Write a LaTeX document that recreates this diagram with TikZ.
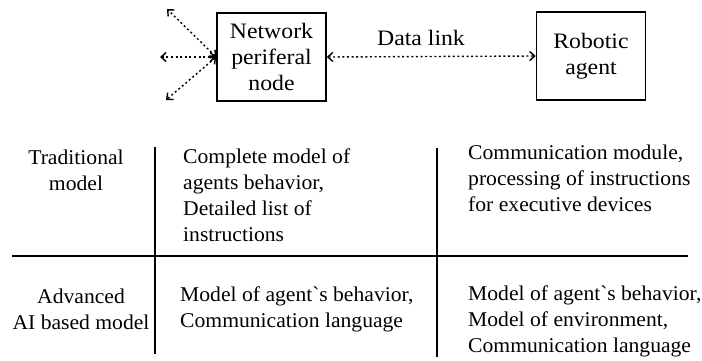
\documentclass[tikz,border=0pt]{standalone}
\usepackage{fontspec}
\setmainfont{LiberationSerif}[Extension=.ttf,UprightFont=*-Regular,BoldFont=*-Bold,ItalicFont=*-Italic]
\newfontfamily\boxfont{LiberationSerif}[Extension=.ttf,UprightFont=*-Regular,FakeStretch=1.08]
\newfontfamily\tabfont{LiberationSerif}[Extension=.ttf,UprightFont=*-Regular,FakeStretch=1.03]
\usetikzlibrary{arrows.meta}
\tikzset{
  box/.style={draw, line width=1.6pt, minimum width=109pt, minimum height=88pt, align=center, inner sep=0pt, font=\boxfont\fontsize{22}{26}\selectfont},
  link/.style={line width=1.4pt, dash pattern=on 2pt off 2.6pt, {Straight Barb[length=5pt,width=9pt]}-{Straight Barb[length=5pt,width=9pt]}},
  txt/.style={inner sep=0pt, font=\tabfont\fontsize{21}{26}\selectfont},
  rule/.style={line width=1.6pt}
}
\begin{document}
\begin{tikzpicture}[x=1pt,y=-1pt]
\useasboundingbox (0,0) rectangle (702,360);
\node[box] (net) at (271.5,57) {Network\\periferal\\node};
\node[box] (rob) at (591,56) {Robotic\\agent};
\node[inner sep=0pt, font=\boxfont\fontsize{22}{26}\selectfont] (dl) at (421,38) {Data link};
\draw[link] (net.east) -- (rob.west);
\coordinate (ul) at (167,9);
\coordinate (l) at (160,57);
\coordinate (ll) at (166,100);
\draw[link] (net.west) -- (ul);
\draw[link] (net.west) -- (l);
\draw[link] (net.west) -- (ll);
% table
\coordinate (h1) at (12,256);
\coordinate (h2) at (688,256);
\coordinate (v1t) at (155,147);
\coordinate (v1b) at (155,354);
\coordinate (v2t) at (437,148);
\coordinate (v2b) at (437,357);
\draw[rule] (h1) -- (h2);
\draw[rule] (v1t) -- (v1b);
\draw[rule] (v2t) -- (v2b);
\node[txt, align=center] (t1) at (76,170) {Traditional\\model};
\node[txt, align=left, anchor=west] (t2) at (183,195.5) {Complete model of\\agents behavior,\\Detailed list of\\instructions};
\node[txt, align=left, anchor=west] (t3) at (468,178.5) {Communication module,\\processing of instructions\\for executive devices};
\node[txt, align=center] (a1) at (81,309) {Advanced\\AI based model};
\node[txt, align=left, anchor=west] (a2) at (180,309) {Model of agent\textasciigrave s behavior,\\Communication language};
\node[txt, align=left, anchor=west] (a3) at (468,321) {Model of agent\textasciigrave s behavior,\\Model of environment,\\Communication language};
\end{tikzpicture}
\end{document}
